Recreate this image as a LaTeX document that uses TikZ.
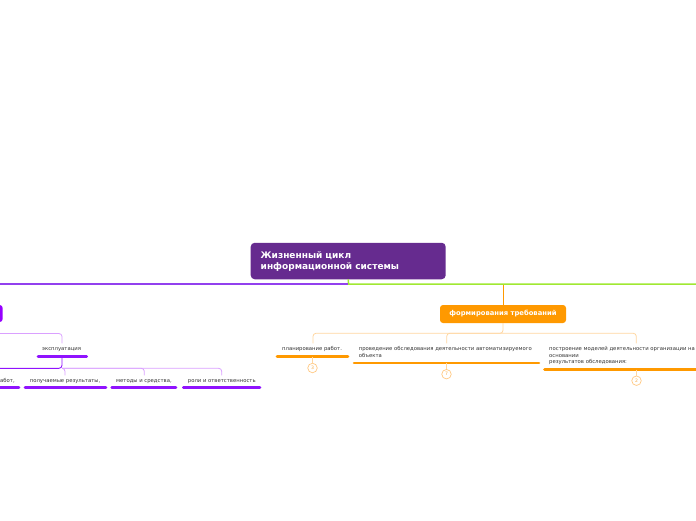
\documentclass[tikz,border=0pt]{standalone}
\usepackage{fontspec}
\setmainfont{DejaVu Sans}
\definecolor{rootp}{RGB}{102,43,143}
\definecolor{mainp}{RGB}{146,64,238}
\definecolor{nodep}{RGB}{150,0,255}
\definecolor{ulp}{RGB}{144,19,254}
\definecolor{lightp}{RGB}{218,160,255}
\definecolor{greenl}{RGB}{160,232,50}
\definecolor{orangeN}{RGB}{255,153,0}
\definecolor{lighto}{RGB}{255,214,160}
\definecolor{badgeo}{RGB}{255,200,130}
\definecolor{badget}{RGB}{245,170,70}
\definecolor{textgray}{RGB}{51,51,51}
\begin{document}
\begin{tikzpicture}[x=1pt,y=-1pt,
  txt/.style={inner sep=0pt, font=\fontsize{5.3}{6.6}\selectfont, text=textgray},
  mtxt/.style={txt, align=left, anchor=north west},
  rootbox/.style={fill=rootp, rounded corners=4pt, minimum width=195pt, minimum height=36.5pt,
    text width=175pt, inner xsep=10pt, inner ysep=0pt, align=left, text=white,
    font=\fontsize{9}{11}\bfseries\selectfont},
  obox/.style={fill=orangeN, rounded corners=3pt, minimum width=126pt, minimum height=18pt,
    inner sep=0pt, text=white, font=\fontsize{6.8}{8}\bfseries\selectfont},
  pbox/.style={fill=nodep, rounded corners=3pt, minimum width=66pt, minimum height=17pt, inner sep=0pt},
  badge/.style={circle, draw=badgeo, line width=0.7pt, minimum size=9.5pt, inner sep=0pt,
    text=badget, font=\fontsize{4.6}{5}\selectfont},
  greenline/.style={draw=greenl, line width=1.5pt},
  mainpline/.style={draw=mainp, line width=1.5pt},
  oline/.style={draw=orangeN, line width=0.9pt},
  loline/.style={draw=lighto, line width=0.8pt, rounded corners=3pt},
  lpline/.style={draw=lightp, line width=0.8pt, rounded corners=3pt},
  dpline/.style={draw=ulp, line width=0.9pt, rounded corners=3pt},
  ulo/.style={draw=orangeN, line width=2.6pt, line cap=round},
  ulpp/.style={draw=ulp, line width=2.6pt, line cap=round},
  ulbo/.style={loline}
]
\useasboundingbox (0,0) rectangle (696,520);
\clip (0,0) rectangle (696,520);

% root
\node[rootbox] (root) at (348.2,261) {Жизненный цикл\\информационной системы};
\coordinate (j) at (348.6,284);
\coordinate (jl) at (347.6,284);
\coordinate (leftend) at (-20,284);
\coordinate (rightend) at (720,284);
\draw[greenline] (root.south) -- (j) -- (rightend);
\draw[mainpline] (jl) -- (leftend);

% orange branch
\node[obox] (onode) at (503,314) {формирования требований};
\coordinate (ob) at (503,284.6);
\draw[oline] (ob) -- (onode.north);
\coordinate (oj) at (503,333.3);
\coordinate (c1top) at (313,343.3);
\coordinate (c2top) at (446.7,343.3);
\coordinate (c3top) at (636.3,343.3);
\draw[loline] (onode.south) -- (oj) -| (c1top);
\draw[loline] (oj) -| (c2top);
\draw[loline] (oj) -| (c3top);

\node[txt, anchor=base west] (c1) at (282,350.8) {планирование работ.};
\draw[ulo] (277,356.7) coordinate (c1l) -- (348,356.7) coordinate (c1r);
\coordinate (c1u) at (312.5,356.7);
\node[badge] (b1) at (312.5,368) {3};
\draw[loline] (c1u) -- (b1);

\node[mtxt] (c2) at (358.7,346.4) {проведение обследования деятельности автоматизируемого\\объекта};
\draw[ulo] (354,362.8) coordinate (c2l) -- (539,362.8) coordinate (c2r);
\coordinate (c2u) at (446.5,362.8);
\node[badge] (b2) at (446.5,374.2) {7};
\draw[loline] (c2u) -- (b2);

\node[mtxt] (c3) at (549,346.4) {построение моделей деятельности организации на\\основании\\результатов обследования:};
\draw[ulo] (544.5,369.5) coordinate (c3l) -- (720,369.5) coordinate (c3r);
\coordinate (c3u) at (636.5,369.5);
\node[badge] (b3) at (636.5,380.7) {2};
\draw[loline] (c3u) -- (b3);

% purple branch
\node[pbox] (pnode) at (-30.3,313.5) {};
\coordinate (pj) at (-30.3,333.5);
\coordinate (etop) at (62,343.3);
\draw[lpline] (pnode.south) -- (pj) -| (etop);
\node[txt, anchor=base west] (expl) at (42,350.8) {эксплуатация};
\draw[ulpp] (38,356.7) coordinate (el) -- (86.7,356.7) coordinate (er);
\coordinate (eu) at (62,356.7);
\coordinate (ej) at (62,368.3);
\coordinate (s0top) at (-20,375);
\coordinate (s1top) at (65,375.3);
\coordinate (s2top) at (144.3,375.3);
\coordinate (s3top) at (221.7,375.3);
\draw[lpline] (ej) -| (s1top);
\draw[lpline] (ej) -| (s2top);
\draw[lpline] (ej) -| (s3top);
\draw[dpline] (eu) -- (ej) -| (s0top);

\node[txt, anchor=base west] (s0) at (-3.4,382.2) {работ,};
\draw[ulpp] (-10,387.7) coordinate (s0l) -- (19,387.7) coordinate (s0r);
\node[txt, anchor=base west] (s1) at (29.7,382.2) {получаемые результаты,};
\draw[ulpp] (25,387.7) coordinate (s1l) -- (106,387.7) coordinate (s1r);
\node[txt, anchor=base west] (s2) at (116,382.2) {методы и средства,};
\draw[ulpp] (111.7,387.7) coordinate (s2l) -- (176,387.7) coordinate (s2r);
\node[txt, anchor=base west] (s3) at (187.7,382.2) {роли и ответственность};
\draw[ulpp] (183.3,387.7) coordinate (s3l) -- (260,387.7) coordinate (s3r);
\end{tikzpicture}
\end{document}
